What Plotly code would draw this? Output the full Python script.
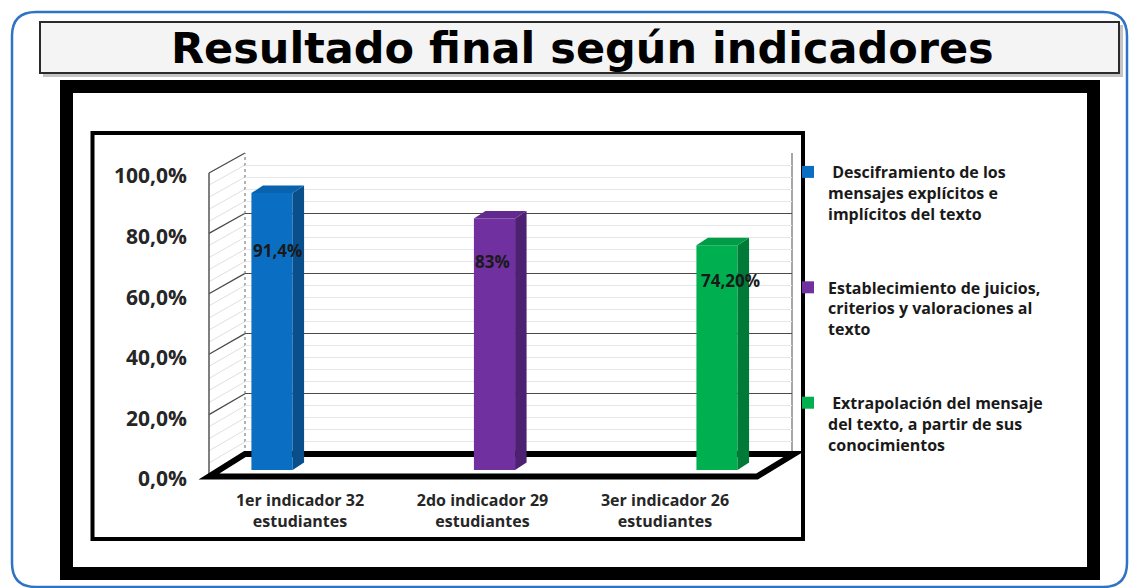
import plotly.graph_objects as go

# ---------------- data ----------------
categories = ["1er indicador 32<br>estudiantes",
              "2do indicador 29<br>estudiantes",
              "3er indicador 26<br>estudiantes"]
series_names = ["\u00a0Desciframiento de los<br>mensajes explícitos e<br>implícitos del texto",
                "Establecimiento de juicios,<br>criterios y valoraciones al<br>texto",
                "\u00a0Extrapolación del mensaje<br>del texto, a partir de sus<br>conocimientos"]
values = [91.4, 83.0, 74.2]
value_labels = ["91,4%", "83%", "74,20%"]
tick_values = [0, 20, 40, 60, 80, 100]
tick_labels = ["0,0%", "20,0%", "40,0%", "60,0%", "80,0%", "100,0%"]
title_text = "Resultado final según indicadores"

# ---------------- style ----------------
front_colors = ["#0a6fc2", "#7030a0", "#00b050"]
side_colors = ["#084f8c", "#4e2072", "#007a37"]
top_colors = ["#0862ad", "#62298f", "#009c46"]
label_shift_y = [-57, -43, -35]
label_shift_x = [5, -2, 13]

W, H = 1129, 588
def px(x):
    return x / W
def py(y):
    return 1 - y / H

FONT = "Open Sans"
TXT = "#262626"

# geometry (pixels)
bar_x0, bar_x1 = 160.75, 828.25          # bar x-axis domain
bar_y0, bar_y1 = 470, 167                # bar y-axis 0 / 100
wall_x0, wall_x1 = 245, 792              # back wall
wall_y0, wall_y1 = 454, 153
front_x = 209
front_y0, front_y1 = 475, 173
bar_w = 0.185
depth_px_x, depth_px_y = 11.5, 7.5
dx = depth_px_x / ((bar_x1 - bar_x0) / 3)
dy = depth_px_y / ((bar_y0 - bar_y1) / 100)

fig = go.Figure()

# wall subplot dummy trace (x, y)
fig.add_trace(go.Scatter(x=[0.5], y=[None], xaxis="x", yaxis="y",
                         showlegend=False, hoverinfo="skip"))

# bars (x2, y2)
for i, (name, v) in enumerate(zip(series_names, values)):
    fig.add_trace(go.Bar(x=[i], y=[v], width=bar_w, name=name,
                         marker=dict(color=front_colors[i], line=dict(width=0)),
                         xaxis="x2", yaxis="y2", legendgroup=f"g{i}",
                         hoverinfo="skip"))
for i, v in enumerate(values):
    xl, xr = i - bar_w / 2, i + bar_w / 2
    fig.add_trace(go.Scatter(x=[xr, xr + dx, xr + dx, xr, xr],
                             y=[0, dy, v + dy, v, 0],
                             fill="toself", fillcolor=side_colors[i],
                             line=dict(width=0), mode="lines",
                             xaxis="x2", yaxis="y2", showlegend=False,
                             hoverinfo="skip"))
    fig.add_trace(go.Scatter(x=[xl, xr, xr + dx, xl + dx, xl],
                             y=[v, v, v + dy, v + dy, v],
                             fill="toself", fillcolor=top_colors[i],
                             line=dict(width=0), mode="lines",
                             xaxis="x2", yaxis="y2", showlegend=False,
                             hoverinfo="skip"))

# category label axis dummy (x3, y3)
fig.add_trace(go.Scatter(x=categories, y=[None] * len(categories),
                         xaxis="x3", yaxis="y3", showlegend=False,
                         hoverinfo="skip"))

# ---------------- shapes ----------------
shapes = []
def rect(x0, y0, x1, y1, **kw):
    d = dict(type="rect", xref="paper", yref="paper",
             x0=px(x0), x1=px(x1), y0=py(y0), y1=py(y1), layer="below")
    d.update(kw)
    shapes.append(d)
def line(x0, y0, x1, y1, color, width, dash="solid"):
    shapes.append(dict(type="line", xref="paper", yref="paper",
                       x0=px(x0), x1=px(x1), y0=py(y0), y1=py(y1),
                       line=dict(color=color, width=width, dash=dash),
                       layer="below"))
def path(points, **kw):
    p = "M " + " L ".join(f"{px(x):.5f},{py(y):.5f}" for x, y in points) + " Z"
    d = dict(type="path", xref="paper", yref="paper", path=p, layer="below")
    d.update(kw)
    shapes.append(d)

# outer rounded blue border
r = 24
x0, y0, x1, y1 = 12, 12, 1127, 587
pts = (f"M {px(x0+r)},{py(y0)} L {px(x1-r)},{py(y0)} "
       f"Q {px(x1)},{py(y0)} {px(x1)},{py(y0+r)} L {px(x1)},{py(y1-r)} "
       f"Q {px(x1)},{py(y1)} {px(x1-r)},{py(y1)} L {px(x0+r)},{py(y1)} "
       f"Q {px(x0)},{py(y1)} {px(x0)},{py(y1-r)} L {px(x0)},{py(y0+r)} "
       f"Q {px(x0)},{py(y0)} {px(x0+r)},{py(y0)} Z")
shapes.append(dict(type="path", xref="paper", yref="paper", path=pts,
                   line=dict(color="#2f74c4", width=2.5), layer="below"))

# title box with shadow
rect(43, 25, 1123, 77, fillcolor="#c4c4c4", line=dict(width=0))
rect(40, 22, 1119, 73, fillcolor="#f4f4f4", line=dict(color="#2a2a2a", width=2))

# thick black frame and inner frame
rect(66.5, 86.5, 1093.5, 573.5, fillcolor="white", line=dict(color="black", width=13))
rect(92.5, 133, 803, 539, fillcolor="white", line=dict(color="black", width=4))

# left wall
def front_y(v):
    return front_y0 + (front_y1 - front_y0) * v / 100
def wall_y(v):
    return wall_y0 + (wall_y1 - wall_y0) * v / 100
path([(front_x, front_y(100)), (wall_x0, wall_y(100)),
      (wall_x0, wall_y(0)), (front_x, front_y(0))],
     fillcolor="white", line=dict(width=0))
for k in range(0, 101, 4):
    if k % 20:
        line(front_x, front_y(k), wall_x0, wall_y(k), "#e0e0e0", 1)
for t in tick_values[1:]:
    line(front_x, front_y(t), wall_x0, wall_y(t), "#4a4a4a", 1.3)
line(front_x, front_y(0), front_x, front_y(100), "#555555", 1.5)
line(wall_x0, wall_y(0), wall_x0, wall_y(100), "#8a8a8a", 1.3, dash="dot")
line(wall_x1, wall_y(0), wall_x1, wall_y(100), "#8a8a8a", 1.5)

# floor
path([(front_x, front_y(0) + 1.5), (757, front_y(0) + 1.5),
      (794, wall_y(0)), (wall_x0, wall_y(0))],
     fillcolor="white", line=dict(color="black", width=6))

# ---------------- annotations ----------------
annotations = [dict(text=f"<b>{title_text}</b>", x=px(582), y=py(48),
                    xref="paper", yref="paper", showarrow=False,
                    xanchor="center", yanchor="middle",
                    font=dict(family="DejaVu Sans", size=43, color="black"))]
for i, (v, lab) in enumerate(zip(values, value_labels)):
    annotations.append(dict(text=lab, x=i, y=v, xref="x2", yref="y2",
                            showarrow=False, xshift=label_shift_x[i],
                            yshift=label_shift_y[i],
                            xanchor="center", yanchor="middle",
                            font=dict(family=FONT, size=17, color="#1a1a1a",
                                      weight="bold")))

fig.update_layout(
    width=W, height=H,
    margin=dict(l=0, r=0, t=0, b=0, pad=0, autoexpand=False),
    paper_bgcolor="white", plot_bgcolor="rgba(0,0,0,0)",
    barmode="overlay",
    shapes=shapes, annotations=annotations,
    showlegend=True,
    legend=dict(x=px(788), y=py(155), xanchor="left", yanchor="top",
                font=dict(family=FONT, size=16, color="#1a1a1a", weight="bold"),
                bgcolor="rgba(0,0,0,0)", valign="top",
                traceorder="grouped", tracegroupgap=50),
    xaxis=dict(domain=[px(wall_x0), px(wall_x1)], range=[0, 1], visible=False,
               anchor="y"),
    yaxis=dict(domain=[py(wall_y0), py(wall_y1)], range=[0, 100], anchor="x",
               tickmode="array", tickvals=tick_values[1:], showticklabels=False,
               ticks="", showline=False, zeroline=False,
               showgrid=True, gridcolor="#4a4a4a", gridwidth=1.3,
               minor=dict(tickmode="linear", tick0=0, dtick=4, showgrid=True,
                          gridcolor="#e6e6e6", gridwidth=1, ticks="")),
    xaxis2=dict(domain=[px(bar_x0), px(bar_x1)], range=[-0.5, 2.5],
                visible=False, anchor="y2"),
    yaxis2=dict(domain=[py(bar_y0), py(bar_y1)], range=[0, 100],
                anchor="free", position=px(187), showgrid=False,
                zeroline=False, showline=False, ticks="",
                tickmode="array", tickvals=tick_values, ticktext=tick_labels,
                ticklabelshift=9,
                tickfont=dict(family=FONT, size=21, color=TXT, weight="bold")),
    xaxis3=dict(domain=[px(208.75), px(756.25)], type="category",
                categoryorder="array", categoryarray=categories,
                range=[-0.5, 2.5], anchor="y3", showgrid=False,
                showline=False, zeroline=False, ticks="",
                tickfont=dict(family=FONT, size=16, color=TXT, weight="bold")),
    yaxis3=dict(domain=[py(489), 0.9], range=[0, 1], visible=False,
                anchor="x3"),
)

fig.write_html("out.html", config={"displayModeBar": False},
               post_script="document.body.style.margin='0px';")
